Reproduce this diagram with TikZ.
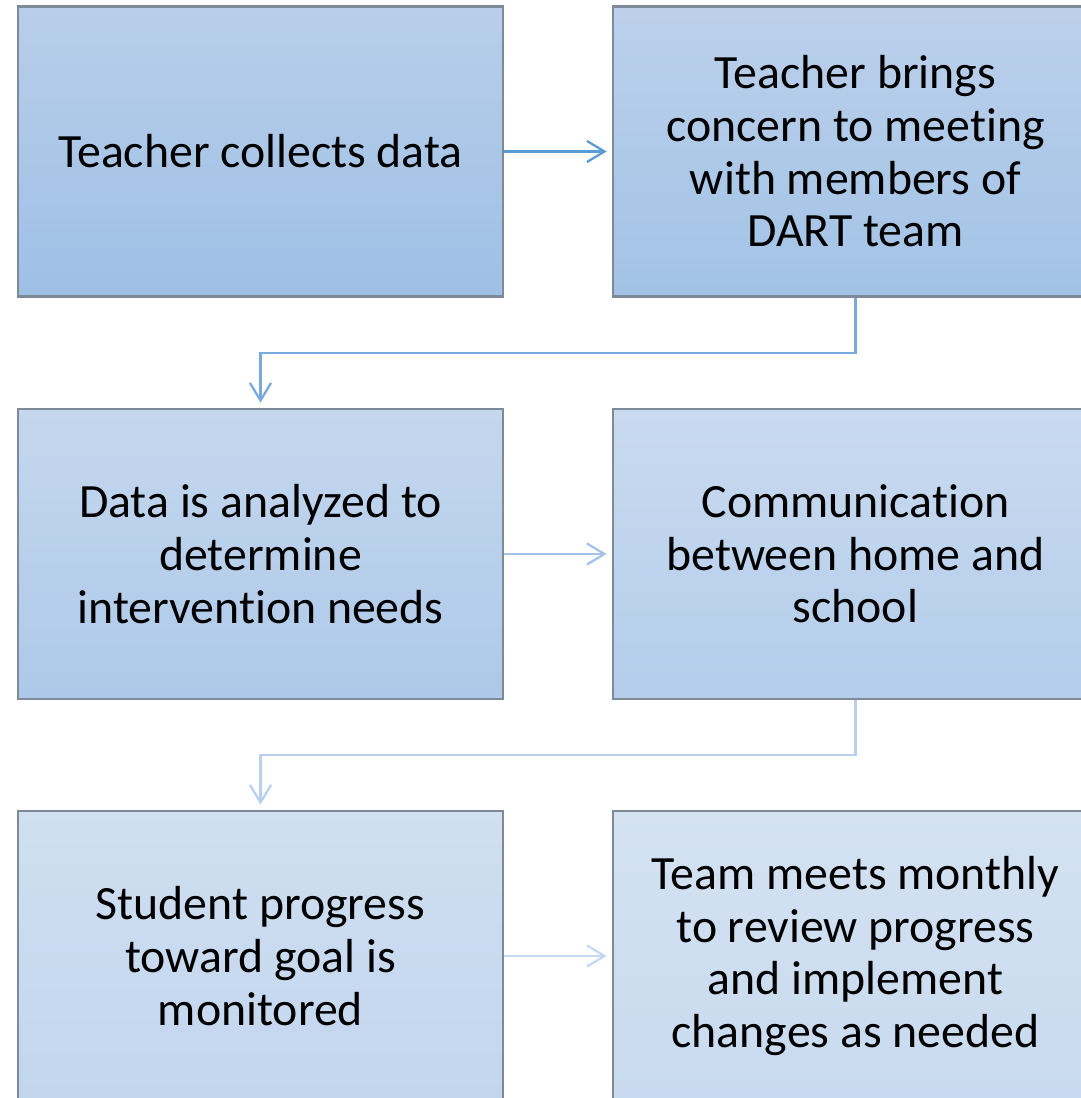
\documentclass[tikz,border=0pt]{standalone}
\usepackage{fontspec}
\setmainfont{Carlito}[Ligatures=NoCommon]
\usetikzlibrary{positioning, arrows.meta}

\definecolor{boxline}{HTML}{7F8A99}
\definecolor{arrowA}{HTML}{5B9BD5}
\definecolor{arrowB}{HTML}{7AAADD}
\definecolor{arrowC}{HTML}{A4C3E8}
\definecolor{arrowD}{HTML}{B8D0EE}
\definecolor{arrowE}{HTML}{C6D9F1}

\begin{document}
\begin{tikzpicture}[
        x=0.02cm, y=-0.02cm,
        stepbox/.style={rectangle, draw=boxline, line width=1.2pt, align=center,
                        minimum width=9.7cm, minimum height=5.8cm, inner sep=0pt,
                        font=\fontsize{27.2}{30}\selectfont},
        flow/.style={line width=1.3pt, shorten >=3pt,
                     -{Straight Barb[length=10pt, width=12pt, line width=1.3pt]}}
    ]
    \useasboundingbox (0,0) rectangle (1081,1098);
    \clip (0,0) rectangle (1081,1098);

    % row 1
    \node[stepbox, top color={rgb,255:red,185;green,206;blue,234}, bottom color={rgb,255:red,157;green,192;blue,229}]
        (collect) at (260.5,151.5) {Teacher collects data};
    \node[stepbox, top color={rgb,255:red,188;green,208;blue,235}, bottom color={rgb,255:red,162;green,195;blue,230}]
        (concern) at (855.5,151.5) {Teacher brings\\concern to meeting\\with members of\\DART team};

    % row 2
    \node[stepbox, top color={rgb,255:red,197;green,215;blue,238}, bottom color={rgb,255:red,173;green,201;blue,233}]
        (analyze) at (260.5,554) {Data is analyzed to\\determine\\intervention needs};
    \node[stepbox, top color={rgb,255:red,201;green,218;blue,239}, bottom color={rgb,255:red,180;green,205;blue,235}]
        (home) at (855.5,554) {Communication\\between home and\\school};

    % row 3
    \node[stepbox, top color={rgb,255:red,208;green,223;blue,241}, bottom color={rgb,255:red,194;green,214;blue,238}]
        (monitor) at (260.5,956) {Student progress\\toward goal is\\monitored};
    \node[stepbox, top color={rgb,255:red,212;green,226;blue,242}, bottom color={rgb,255:red,200;green,218;blue,239}]
        (review) at (855.5,956) {Team meets monthly\\to review progress\\and implement\\changes as needed};

    % connectors
    \draw[flow, arrowA] (collect.east) -- (concern.west);
    \draw[flow, arrowB] (concern.south) |- (260.5,353) -- (collect.south |- analyze.north);
    \draw[flow, arrowC] (analyze.east) -- (home.west);
    \draw[flow, arrowD] (home.south) |- (260.5,755) -- (analyze.south |- monitor.north);
    \draw[flow, arrowE] (monitor.east) -- (review.west);
\end{tikzpicture}
\end{document}
